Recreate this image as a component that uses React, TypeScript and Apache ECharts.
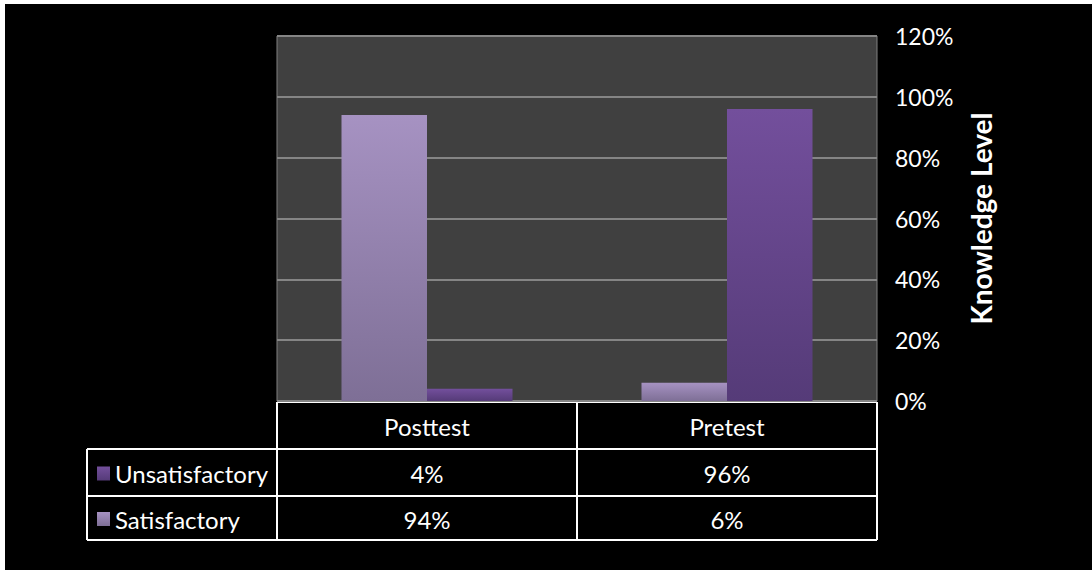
import React, { useEffect, useRef } from "react";
import * as echarts from "echarts";

// Knowledge level before and after the intervention
const categories = ["Posttest", "Pretest"];
const seriesNames = ["Unsatisfactory", "Satisfactory"];
const unsatisfactory = [4, 96];
const satisfactory = [94, 6];
const yTicks = [0, 20, 40, 60, 80, 100, 120];

const W = 1092;
const H = 570;
const GRID = { left: 277, right: 877, top: 36, bottom: 401 };
const FONT = "Lato, 'Open Sans', sans-serif";

const unsatGradient = () =>
  new echarts.graphic.LinearGradient(0, 0, 0, 1, [
    { offset: 0, color: "#734f9c" },
    { offset: 1, color: "#553b78" },
  ]);
const satGradient = () =>
  new echarts.graphic.LinearGradient(0, 0, 0, 1, [
    { offset: 0, color: "#a692c2" },
    { offset: 1, color: "#7e6f96" },
  ]);

export default function App() {
  const ref = useRef<HTMLDivElement>(null);

  useEffect(() => {
    if (!ref.current) return;
    const chart = echarts.init(ref.current, null, { renderer: "svg" });

    const gridW = GRID.right - GRID.left;
    const catW = gridW / categories.length;
    const rowTop = GRID.bottom;
    const row1 = 449;
    const row2 = 496;
    const rowEnd = 540;
    const tableLeft = 87;
    const lineStyle = { stroke: "#ffffff", lineWidth: 2 };

    const graphic: any[] = [];
    // outer white edge
    graphic.push({ type: "rect", shape: { x: 0, y: 0, width: W, height: 4 }, style: { fill: "#ffffff" } });
    graphic.push({ type: "rect", shape: { x: 0, y: 0, width: 5, height: H }, style: { fill: "#ffffff" } });

    // data table grid lines
    const hLine = (y: number, x1: number, x2: number) =>
      graphic.push({ type: "line", shape: { x1, y1: y, x2, y2: y }, style: lineStyle });
    const vLine = (x: number, y1: number, y2: number) =>
      graphic.push({ type: "line", shape: { x1: x, y1, x2: x, y2 }, style: lineStyle });
    hLine(rowTop + 1, GRID.left, GRID.right);
    hLine(row1, tableLeft, GRID.right);
    hLine(row2, tableLeft, GRID.right);
    hLine(rowEnd, tableLeft, GRID.right);
    vLine(tableLeft, row1, rowEnd);
    for (let i = 0; i <= categories.length; i++) {
      vLine(GRID.left + i * catW, rowTop + 1, rowEnd);
    }

    const textStyle = (text: string, align: string) => ({
      text,
      fill: "#ffffff",
      font: `24px ${FONT}`,
      align,
      verticalAlign: "middle",
    });

    // header row: categories
    categories.forEach((c, i) => {
      graphic.push({
        type: "text",
        x: GRID.left + (i + 0.5) * catW,
        y: (rowTop + row1) / 2 + 1,
        style: textStyle(c, "center"),
      });
    });

    // value rows with legend keys
    const rows = [
      { name: seriesNames[0], values: unsatisfactory, fill: unsatGradient(), y1: row1, y2: row2 },
      { name: seriesNames[1], values: satisfactory, fill: satGradient(), y1: row2, y2: rowEnd },
    ];
    rows.forEach((r) => {
      const cy = (r.y1 + r.y2) / 2 + 1;
      graphic.push({ type: "rect", shape: { x: 97, y: cy - 7, width: 13, height: 14 }, style: { fill: r.fill } });
      graphic.push({ type: "text", x: 115, y: cy, style: textStyle(r.name, "left") });
      r.values.forEach((v, i) => {
        graphic.push({
          type: "text",
          x: GRID.left + (i + 0.5) * catW,
          y: cy,
          style: textStyle(`${v}%`, "center"),
        });
      });
    });

    chart.setOption({
      animation: false,
      backgroundColor: "#000000",
      grid: {
        left: GRID.left,
        top: GRID.top,
        width: gridW,
        height: GRID.bottom - GRID.top,
        show: true,
        backgroundColor: "#404040",
        borderColor: "#808080",
        borderWidth: 1,
      },
      xAxis: {
        type: "category",
        data: categories,
        axisLabel: { show: false },
        axisTick: { show: false },
        axisLine: { show: false },
      },
      yAxis: {
        type: "value",
        position: "right",
        min: yTicks[0],
        max: yTicks[yTicks.length - 1],
        interval: yTicks[1] - yTicks[0],
        axisLabel: {
          color: "#ffffff",
          fontFamily: FONT,
          fontSize: 23,
          margin: 18,
          formatter: (v: number) => `${v}%`,
        },
        axisLine: { show: false },
        axisTick: { show: false },
        splitLine: { lineStyle: { color: "#858585", width: 2 } },
        name: "Knowledge Level",
        nameLocation: "middle",
        nameRotate: 90,
        nameGap: 90,
        nameTextStyle: { color: "#ffffff", fontFamily: FONT, fontSize: 28, fontWeight: "bold" },
      },
      series: [
        {
          name: seriesNames[1],
          type: "bar",
          data: satisfactory,
          barGap: "0%",
          barCategoryGap: "43%",
          itemStyle: { color: satGradient() },
        },
        {
          name: seriesNames[0],
          type: "bar",
          data: unsatisfactory,
          itemStyle: { color: unsatGradient() },
        },
      ],
      graphic,
    });

    return () => chart.dispose();
  }, []);

  return (
    <div
      ref={ref}
      style={{ position: "absolute", left: 0, top: 0, width: W, height: H }}
    />
  );
}
